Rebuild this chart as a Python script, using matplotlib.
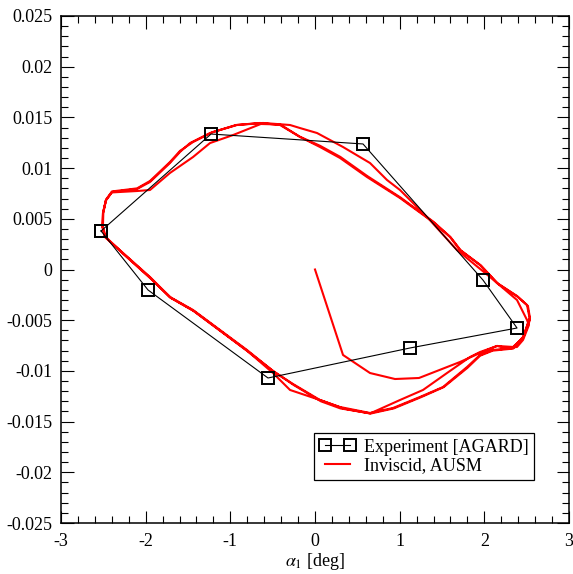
import matplotlib
matplotlib.use('Agg')
import matplotlib.pyplot as plt
from matplotlib.ticker import MultipleLocator, FuncFormatter
from matplotlib.lines import Line2D

plt.rcParams['font.family'] = ['Liberation Serif', 'DejaVu Serif']
plt.rcParams['mathtext.fontset'] = 'stix'
plt.rcParams['axes.unicode_minus'] = False

# Experiment [AGARD] (closed loop)
exp_alpha = [-2.527, -1.228, 0.567, 1.984, 2.386, 1.122, -0.555, -1.972, -2.527]
exp_cm = [0.0038, 0.01336, 0.01238, -0.00104, -0.00577, -0.00774, -0.0107, -0.00202, 0.0038]

# Inviscid, AUSM: initial transient
start_alpha = [0.0, 0.331, 0.650, 0.945, 1.228, 1.713, 1.949, 2.150, 2.268, 2.386, 2.457, 2.527]
start_cm = [0.0, -0.00843, -0.01021, -0.01080, -0.01070, -0.00912, -0.00823, -0.00754, -0.00774, -0.00764, -0.00695, -0.00547]

# cycle 1
c1_alpha = [2.504, 2.386, 2.067, 1.677, 1.323, 1.004, 0.850, 0.650, 0.331, 0.024, -0.177, -0.295,
            -0.614, -0.921, -1.205, -1.441, -1.594, -1.713, -1.949, -2.102, -2.398, -2.468, -2.504,
            -2.510, -2.480, -2.268, -1.949, -1.713, -1.441, -1.122, -0.803, -0.496, -0.295, 0.094,
            0.330, 0.650, 1.004, 1.276, 1.559, 1.831, 1.949, 2.150, 2.338, 2.457, 2.539]
c1_cm = [-0.00498, -0.00301, -0.00074, 0.00192, 0.00518, 0.00784, 0.00883, 0.01050, 0.01208, 0.01346,
         0.01395, 0.01425, 0.01445, 0.01425, 0.01356, 0.01257, 0.01170, 0.01060, 0.00873, 0.00800,
         0.00770, 0.00690, 0.00560, 0.00420, 0.00320, 0.00160, -0.00080, -0.00276, -0.00405, -0.00602,
         -0.00800, -0.01021, -0.01188, -0.01297, -0.01370, -0.01420, -0.01287, -0.01188, -0.01021,
         -0.00863, -0.00814, -0.00754, -0.00764, -0.00676, -0.00498]

# cycle 2
c2_alpha = [2.504, 2.386, 2.150, 1.949, 1.713, 1.594, 1.394, 1.004, 0.614, 0.295, 0.059, -0.177,
            -0.413, -0.650, -0.933, -1.240, -1.476, -1.594, -1.713, -1.949, -2.102, -2.398, -2.468,
            -2.504, -2.510, -2.480, -2.268, -1.949, -1.713, -1.441, -1.122, -0.803, -0.496, -0.260,
            0.059, 0.295, 0.650, 0.921, 1.240, 1.512, 1.795, 1.949, 2.102, 2.338, 2.457, 2.539]
c2_cm = [-0.00350, -0.00261, -0.00133, 0.00044, 0.00192, 0.00321, 0.00468, 0.00705, 0.00912, 0.01100,
         0.01208, 0.01307, 0.01425, 0.01445, 0.01425, 0.01346, 0.01247, 0.01160, 0.01050, 0.00863,
         0.00794, 0.00764, 0.00685, 0.00557, 0.00419, 0.00321, 0.00163, -0.00074, -0.00271, -0.00399,
         -0.00596, -0.00794, -0.01001, -0.01129, -0.01287, -0.01356, -0.01415, -0.01366, -0.01257,
         -0.01159, -0.00962, -0.00843, -0.00794, -0.00774, -0.00666, -0.00478]

# cycle 3
c3_alpha = [2.515, 2.395, 2.160, 1.960, 1.720, 1.600, 1.400, 1.010, 0.620, 0.300, 0.060, -0.180,
            -0.410, -0.640, -0.968, -1.240, -1.441, -1.713, -1.949, -2.102, -2.400, -2.470, -2.500,
            -2.505, -2.470, -2.260, -1.940, -1.700, -1.430, -1.110, -0.790, -0.480, -0.250, 0.070,
            0.300, 0.660, 0.930, 1.250, 1.520, 1.800, 1.950, 2.100, 2.340, 2.460, 2.530]
c3_cm = [-0.00360, -0.00270, -0.00140, 0.00040, 0.00190, 0.00320, 0.00470, 0.00710, 0.00920, 0.01110,
         0.01220, 0.01310, 0.01430, 0.01435, 0.01326, 0.01247, 0.01109, 0.00952, 0.00784, 0.00774,
         0.00760, 0.00680, 0.00560, 0.00420, 0.00320, 0.00150, -0.00090, -0.00280, -0.00410, -0.00610,
         -0.00810, -0.01010, -0.01140, -0.01300, -0.01370, -0.01420, -0.01370, -0.01260, -0.01160,
         -0.00970, -0.00850, -0.00800, -0.00780, -0.00670, -0.00490]

red_alpha = start_alpha + c1_alpha + c2_alpha + c3_alpha
red_cm = start_cm + c1_cm + c2_cm + c3_cm

fig = plt.figure(figsize=(5.73, 5.74), dpi=100)
ax = fig.add_axes([61/573, 1-523/574, 508/573, 507/574])

ax.plot(red_alpha, red_cm, color='#ff0000', lw=1.5, zorder=2)
ax.plot(exp_alpha, exp_cm, color='black', lw=0.8, marker='s', markersize=8,
        markerfacecolor='none', markeredgecolor='black', markeredgewidth=1.4, zorder=3)

ax.set_xlim(-3, 3)
ax.set_ylim(-0.025, 0.025)
ax.xaxis.set_major_locator(MultipleLocator(1))
ax.xaxis.set_minor_locator(MultipleLocator(0.2))
ax.yaxis.set_major_locator(MultipleLocator(0.005))
ax.yaxis.set_minor_locator(MultipleLocator(0.001))
fmt = FuncFormatter(lambda v, p: '{:g}'.format(round(v, 6)) if abs(v) > 1e-12 else '0')
ax.xaxis.set_major_formatter(fmt)
ax.yaxis.set_major_formatter(fmt)
ax.tick_params(which='both', direction='in', top=True, right=True, width=0.8, labelsize=13)
ax.tick_params(which='major', length=9)
ax.tick_params(axis='x', which='major', pad=7)
ax.tick_params(axis='y', which='major', pad=6)
ax.tick_params(which='minor', length=4.8)
for s in ax.spines.values():
    s.set_linewidth(1.1)

ax.set_xlabel(r'$\alpha_1$ [deg]', fontsize=13, labelpad=1)

h_exp = Line2D([], [], color='black', lw=0.8, marker='s', markersize=8,
               markerfacecolor='none', markeredgecolor='black', markeredgewidth=1.4)
h_red = Line2D([], [], color='#ff0000', lw=1.5)
leg = ax.legend([h_exp, h_red], ['Experiment [AGARD]', 'Inviscid, AUSM'],
                loc='lower left', bbox_to_anchor=(0.498, 0.0848), borderaxespad=0,
                fontsize=13, numpoints=2, handlelength=2.0, handletextpad=0.45,
                borderpad=0.3, labelspacing=0.1, fancybox=False, framealpha=1)
leg.get_frame().set_edgecolor('black')
leg.get_frame().set_linewidth(0.9)

fig.savefig('out.png', dpi=100)
